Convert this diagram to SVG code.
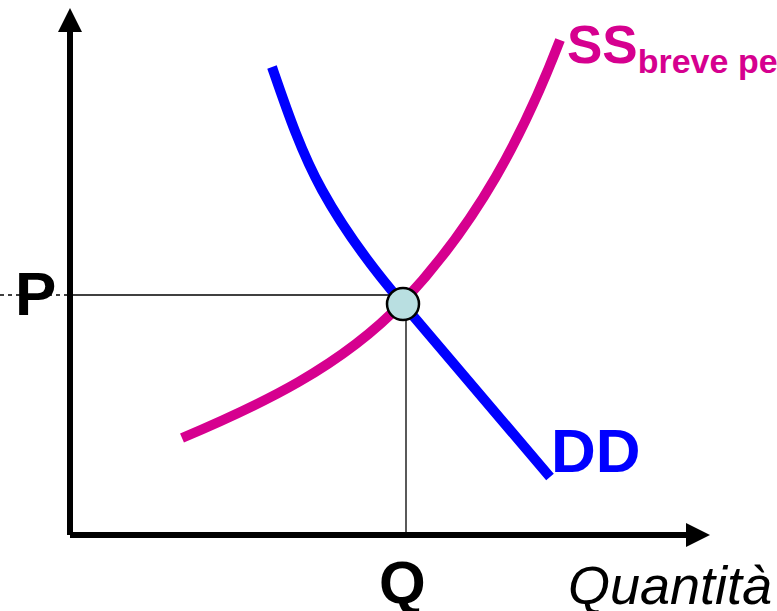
<svg xmlns="http://www.w3.org/2000/svg" width="777" height="611" viewBox="0 0 777 611">
<style>
.lbl{font-family:"Liberation Sans",Arial,sans-serif;font-weight:bold}
.axis{stroke:#000;stroke-width:6;fill:none}
.thin{stroke:#000;stroke-width:1.3;fill:none}
.curve{fill:none;stroke-width:10}
</style>
<defs>
<marker id="ah" markerUnits="userSpaceOnUse" markerWidth="24" markerHeight="24" refX="0" refY="12" orient="auto" viewBox="0 0 24 24">
<path d="M0,0 L24,12 L0,24 Z" fill="#000"/>
</marker>
</defs>
<rect width="777" height="611" fill="#fff"/>
<g id="connectors">
<line class="thin" x1="0" y1="295" x2="70" y2="295" stroke-dasharray="4,4"/>
<line class="thin" x1="70" y1="295" x2="403" y2="295"/>
<line class="thin" x1="406" y1="304" x2="406" y2="535"/>
<line class="axis" x1="70" y1="535" x2="70" y2="32" marker-end="url(#ah)"/>
<line class="axis" x1="70" y1="535" x2="686" y2="535" marker-end="url(#ah)"/>
</g>
<g id="curve-ss">
<path class="curve" d="M182,438 C260,405 341,367 403,302 C478,222 523,136 560,40" stroke="#d6008f"/>
</g>
<g id="curve-dd">
<path class="curve" d="M272,67 C286.5,109 301,152 322,190 C344,230 373,269 403,304 L550,477" stroke="#0000ff"/>
</g>
<g id="equilibrium">
<circle cx="403" cy="304" r="16" fill="#b9dfe1" stroke="#000" stroke-width="2.5"/>
</g>
<g id="label-ss">
<text class="lbl" x="567" y="63" font-size="53" fill="#d6008f">SS<tspan font-size="34" dy="10">breve periodo</tspan></text>
</g>
<g id="label-dd">
<text class="lbl" x="551" y="472" font-size="62" fill="#0000ff">DD</text>
</g>
<g id="label-p">
<text class="lbl" x="15" y="315" font-size="62" fill="#000">P</text>
</g>
<g id="label-q">
<text class="lbl" x="379" y="603" font-size="60" fill="#000">Q</text>
</g>
<g id="label-quantita">
<text x="568" y="604" font-size="54" font-style="italic" font-family="Liberation Sans,Arial,sans-serif" fill="#000">Quantità</text>
</g>
</svg>
